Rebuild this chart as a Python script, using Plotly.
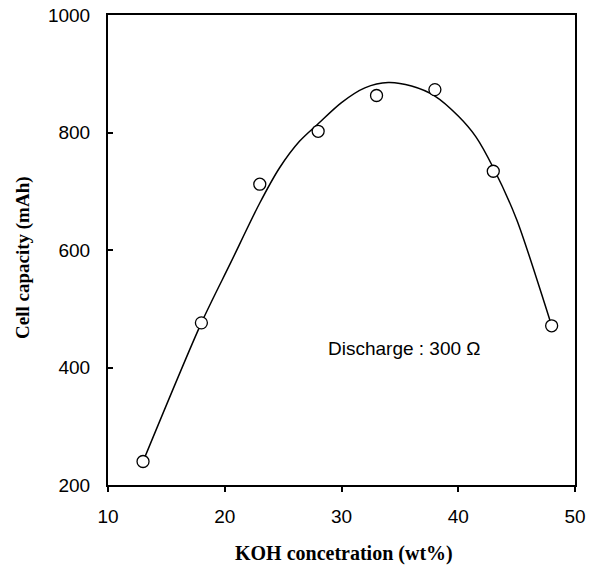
import plotly.graph_objects as go

# Measured data (KOH concentration wt%, cell capacity mAh)
koh = [13, 18, 23, 28, 33, 38, 43, 48]
capacity = [240, 476, 712, 802, 863, 873, 734, 471]

# Smooth fitted curve
curve_x = [13, 18, 20.5, 23, 24.7, 26.4, 28, 30, 32, 34, 36, 38, 40, 41.5, 43, 45, 47.3, 48]
curve_y = [240, 476, 578, 680, 740, 785, 815, 851, 876, 885, 879, 862, 828, 793, 740, 652, 515, 471]

x_ticks = [10, 20, 30, 40, 50]
y_ticks = [200, 400, 600, 800, 1000]

fig = go.Figure()
fig.add_trace(go.Scatter(
    x=curve_x, y=curve_y, mode="lines",
    line=dict(color="black", width=1.5, shape="spline", smoothing=0.8),
    hoverinfo="skip", showlegend=False,
))
fig.add_trace(go.Scatter(
    x=koh, y=capacity, mode="markers",
    marker=dict(symbol="circle", size=12, color="white",
                line=dict(color="black", width=1.3)),
    showlegend=False,
))

fig.add_annotation(x=35.4, y=433, xref="x", yref="y", text="Discharge : 300 Ω",
                   showarrow=False, xanchor="center", yanchor="middle",
                   font=dict(family="Liberation Sans", size=19, color="black"))
fig.add_annotation(x=(344 - 108) / 467, y=-(553 - 485) / 470, xref="paper", yref="paper",
                   text="<b>KOH concetration (wt%)</b>", showarrow=False,
                   xanchor="center", yanchor="middle",
                   font=dict(family="Liberation Serif", size=20, color="black"))
fig.add_annotation(x=-(108 - 23) / 467, y=(485 - 258) / 470, xref="paper", yref="paper",
                   text="<b>Cell capacity (mAh)</b>", showarrow=False, textangle=-90,
                   xanchor="center", yanchor="middle",
                   font=dict(family="Liberation Serif", size=19, color="black"))

fig.update_xaxes(range=[10, 50], tickvals=x_ticks, ticks="outside", ticklen=5,
                 tickcolor="black", tickwidth=1.5, showline=True, linecolor="black",
                 linewidth=2, mirror=True, showgrid=False, zeroline=False,
                 tickfont=dict(family="Liberation Sans", size=19, color="black"),
                 ticklabelstandoff=8, automargin=False)
fig.update_yaxes(range=[200, 1000], tickvals=y_ticks, ticks="inside", ticklen=5,
                 tickcolor="black", tickwidth=1.5, showline=True, linecolor="black",
                 linewidth=2, mirror=True, showgrid=False, zeroline=False,
                 tickfont=dict(family="Liberation Sans", size=19, color="black"),
                 ticklabelstandoff=12, automargin=False)

fig.update_layout(width=593, height=570, margin=dict(l=108, r=18, t=15, b=85),
                  plot_bgcolor="white", paper_bgcolor="white")

fig.write_html("out.html")
